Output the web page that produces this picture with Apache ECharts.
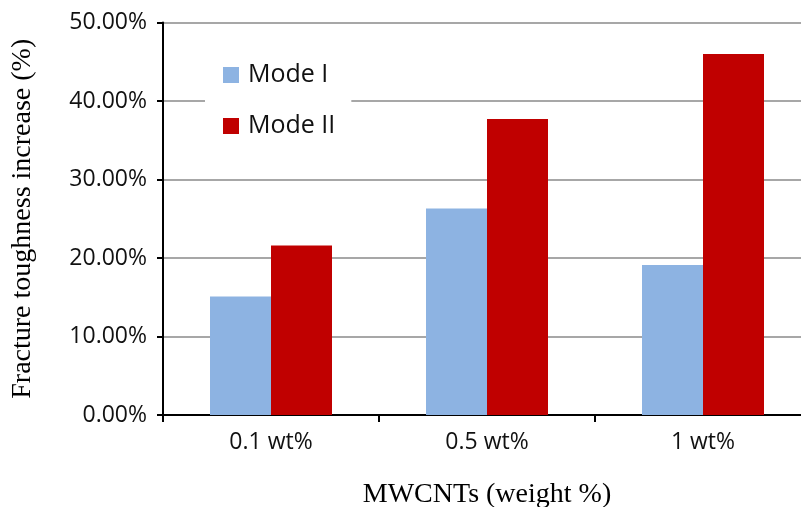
<!DOCTYPE html>
<html>
<head>
<meta charset="utf-8">
<script src="https://cdn.jsdelivr.net/npm/echarts@6/dist/echarts.min.js"></script>
<style>html,body{margin:0;padding:0;background:#fff;}#chart{width:801px;height:507px;}</style>
</head>
<body>
<div id="chart"></div>
<script>
const categories = ['0.1 wt%', '0.5 wt%', '1 wt%'];
const modeI = [15.1, 26.3, 19.1];
const modeII = [21.6, 37.7, 46.0];
const yTicks = [0, 10, 20, 30, 40, 50];

const chart = echarts.init(document.getElementById('chart'), null, {renderer: 'canvas'});
const sans = '"Open Sans", sans-serif';
const serif = '"Liberation Serif", "Times New Roman", serif';
chart.setOption({
  animation: false,
  backgroundColor: '#fff',
  grid: {left: 163, right: -10, top: 22.5, bottom: 92, containLabel: false, outerBoundsMode: 'none'},
  legend: {
    orient: 'vertical',
    left: 205, top: 52,
    padding: [10, 16, 10, 18],
    backgroundColor: '#fff',
    itemWidth: 16, itemHeight: 16, itemGap: 25,
    textStyle: {fontFamily: sans, fontSize: 25, color: '#111', lineHeight: 26, padding: [0, 0, 0, 4]},
    data: [{name: 'Mode I', icon: 'rect'}, {name: 'Mode II', icon: 'rect'}]
  },
  xAxis: {
    type: 'category',
    data: categories,
    name: 'MWCNTs (weight %)',
    nameLocation: 'middle',
    nameGap: 66,
    nameTextStyle: {fontFamily: serif, fontSize: 28, color: '#000'},
    axisLine: {lineStyle: {color: '#000', width: 2}},
    axisTick: {show: true, length: 7, lineStyle: {color: '#000', width: 2}},
    axisLabel: {fontFamily: sans, fontSize: 23, color: '#111', margin: 16}
  },
  yAxis: {
    type: 'value',
    min: yTicks[0], max: yTicks[yTicks.length - 1], interval: 10,
    name: 'Fracture toughness increase (%)',
    nameLocation: 'middle',
    nameGap: 126,
    nameTextStyle: {fontFamily: serif, fontSize: 28, color: '#000'},
    axisLine: {show: true, lineStyle: {color: '#000', width: 2}},
    axisTick: {show: true, length: 6, lineStyle: {color: '#000', width: 2}},
    axisLabel: {fontFamily: sans, fontSize: 23, color: '#111', margin: 16,
      formatter: v => v.toFixed(2) + '%'},
    splitLine: {lineStyle: {color: '#8a8a8a', width: 1.5}}
  },
  series: [
    {name: 'Mode I', type: 'bar', data: modeI, barWidth: 61, barGap: '0%',
     itemStyle: {color: '#8db3e2'}},
    {name: 'Mode II', type: 'bar', data: modeII, barWidth: 61, barGap: '0%',
     itemStyle: {color: '#c00000'}}
  ]
});
</script>
</body>
</html>
